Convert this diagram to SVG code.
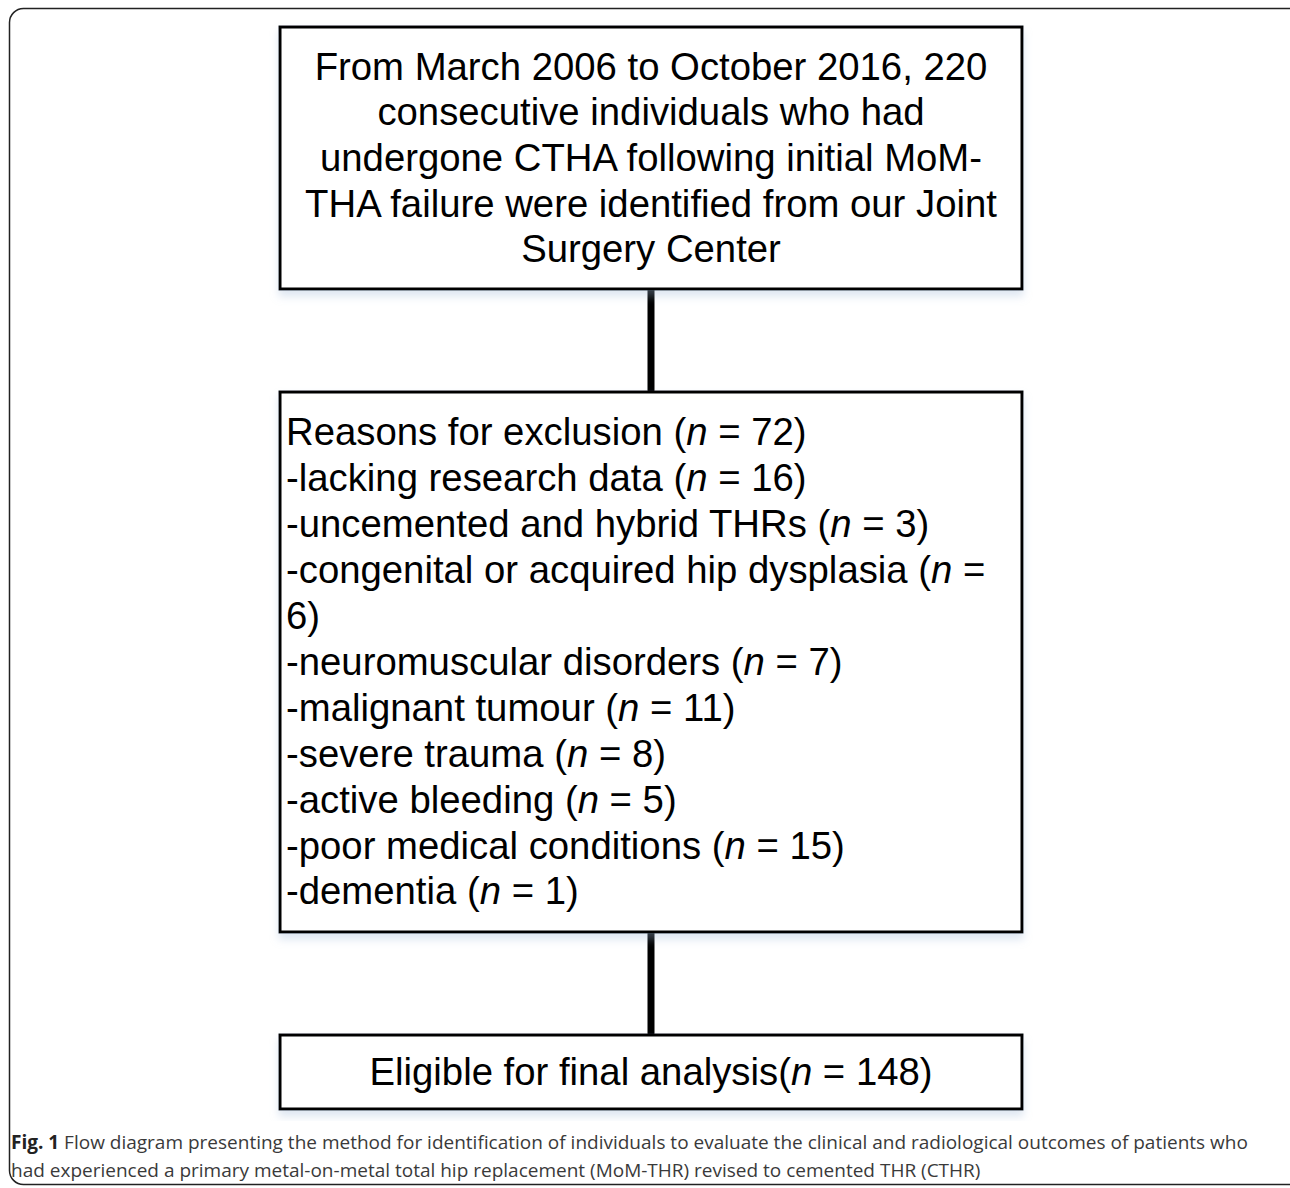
<svg xmlns="http://www.w3.org/2000/svg" width="1290" height="1188" viewBox="0 0 1290 1188">
<style>
.box{fill:#fff;stroke:#000;stroke-width:3}
.t{font-family:"Liberation Sans",Arial,sans-serif;font-size:38.3px;fill:#000}
.c{text-anchor:middle}
.conn{stroke:#000;stroke-width:7;stroke-linecap:round}
.cap{font-family:"Open Sans",sans-serif;font-size:19px;fill:#3a3a3a}
</style>
<defs>
<filter id="sh" x="-5%" y="-5%" width="110%" height="120%">
<feDropShadow dx="0" dy="6" stdDeviation="4" flood-color="#9fb8d8" flood-opacity="0.35"/>
</filter>
</defs>
<rect x="9.5" y="8.5" width="1300" height="1176" rx="14" fill="#fff" stroke="#222" stroke-width="1.5"/>
<g id="connectors">
<line class="conn" x1="651" y1="290" x2="651" y2="390"/>
<line class="conn" x1="651" y1="933" x2="651" y2="1033"/>
</g>
<g id="node1">
<rect class="box" x="280" y="27" width="742" height="262" filter="url(#sh)"/>
<text class="t c" x="651" y="80">From March 2006 to October 2016, 220</text>
<text class="t c" x="651" y="125">consecutive individuals who had</text>
<text class="t c" x="651" y="171">undergone CTHA following initial MoM-</text>
<text class="t c" x="651" y="217">THA failure were identified from our Joint</text>
<text class="t c" x="651" y="262">Surgery Center</text>
</g>
<g id="node2">
<rect class="box" x="280" y="392" width="742" height="540" filter="url(#sh)"/>
<text class="t" x="286" y="445">Reasons for exclusion (<tspan font-style="italic">n</tspan> = 72)</text>
<text class="t" x="286" y="491">-lacking research data (<tspan font-style="italic">n</tspan> = 16)</text>
<text class="t" x="286" y="537">-uncemented and hybrid THRs (<tspan font-style="italic">n</tspan> = 3)</text>
<text class="t" x="286" y="583">-congenital or acquired hip dysplasia (<tspan font-style="italic">n</tspan> =</text>
<text class="t" x="286" y="629">6)</text>
<text class="t" x="286" y="675">-neuromuscular disorders (<tspan font-style="italic">n</tspan> = 7)</text>
<text class="t" x="286" y="721">-malignant tumour (<tspan font-style="italic">n</tspan> = 11)</text>
<text class="t" x="286" y="767">-severe trauma (<tspan font-style="italic">n</tspan> = 8)</text>
<text class="t" x="286" y="813">-active bleeding (<tspan font-style="italic">n</tspan> = 5)</text>
<text class="t" x="286" y="859">-poor medical conditions (<tspan font-style="italic">n</tspan> = 15)</text>
<text class="t" x="286" y="904">-dementia (<tspan font-style="italic">n</tspan> = 1)</text>
</g>
<g id="node3">
<rect class="box" x="280" y="1035" width="742" height="74" filter="url(#sh)"/>
<text class="t c" x="651" y="1085">Eligible for final analysis(<tspan font-style="italic">n</tspan> = 148)</text>
</g>
<text class="cap" x="11" y="1149"><tspan font-weight="bold" fill="#222">Fig. 1</tspan> Flow diagram presenting the method for identification of individuals to evaluate the clinical and radiological outcomes of patients who</text>
<text class="cap" x="11" y="1177">had experienced a primary metal-on-metal total hip replacement (MoM-THR) revised to cemented THR (CTHR)</text>
</svg>
